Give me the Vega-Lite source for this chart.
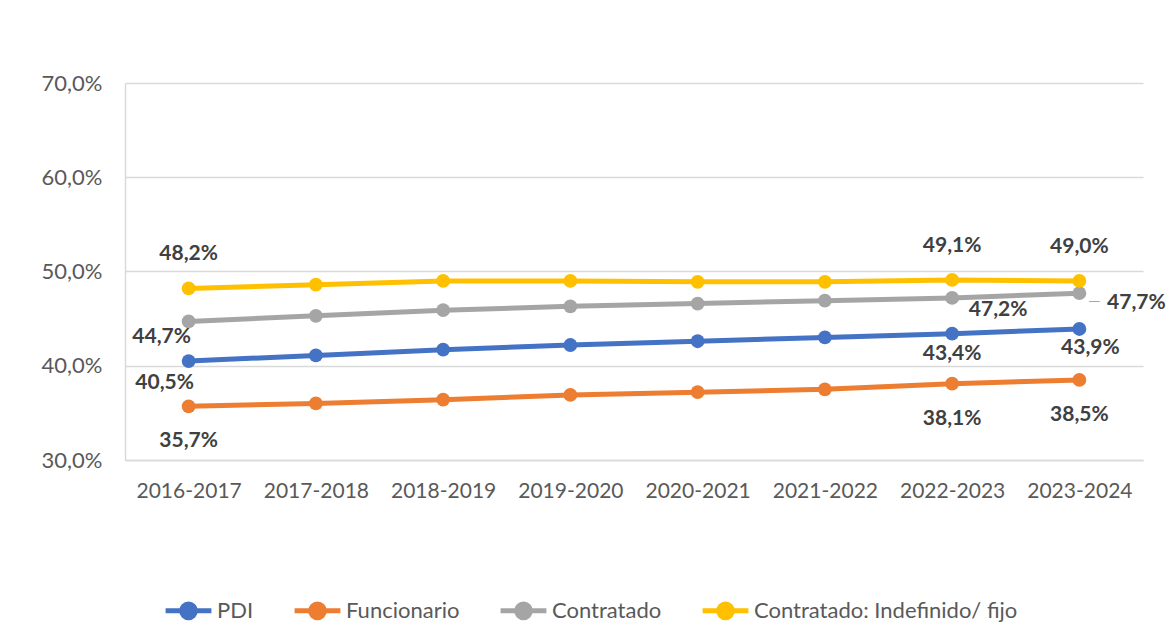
{
  "$schema": "https://vega.github.io/schema/vega-lite/v6.json",
  "autosize": {"type": "none"},
  "width": 1018,
  "height": 377,
  "padding": {"left": 125, "top": 83, "right": 25, "bottom": 182},
  "background": "#ffffff",
  "config": {
    "locale": {"number": {"decimal": ",", "thousands": ".", "grouping": [3], "currency": ["", " €"]}},
    "view": {"stroke": null},
    "font": "Lato"
  },
  "data": {
    "values": [
      {"curso": "2016-2017", "serie": "PDI", "valor": 0.405},
      {"curso": "2017-2018", "serie": "PDI", "valor": 0.411},
      {"curso": "2018-2019", "serie": "PDI", "valor": 0.417},
      {"curso": "2019-2020", "serie": "PDI", "valor": 0.422},
      {"curso": "2020-2021", "serie": "PDI", "valor": 0.426},
      {"curso": "2021-2022", "serie": "PDI", "valor": 0.430},
      {"curso": "2022-2023", "serie": "PDI", "valor": 0.434},
      {"curso": "2023-2024", "serie": "PDI", "valor": 0.439},
      {"curso": "2016-2017", "serie": "Funcionario", "valor": 0.357},
      {"curso": "2017-2018", "serie": "Funcionario", "valor": 0.360},
      {"curso": "2018-2019", "serie": "Funcionario", "valor": 0.364},
      {"curso": "2019-2020", "serie": "Funcionario", "valor": 0.369},
      {"curso": "2020-2021", "serie": "Funcionario", "valor": 0.372},
      {"curso": "2021-2022", "serie": "Funcionario", "valor": 0.375},
      {"curso": "2022-2023", "serie": "Funcionario", "valor": 0.381},
      {"curso": "2023-2024", "serie": "Funcionario", "valor": 0.385},
      {"curso": "2016-2017", "serie": "Contratado", "valor": 0.447},
      {"curso": "2017-2018", "serie": "Contratado", "valor": 0.453},
      {"curso": "2018-2019", "serie": "Contratado", "valor": 0.459},
      {"curso": "2019-2020", "serie": "Contratado", "valor": 0.463},
      {"curso": "2020-2021", "serie": "Contratado", "valor": 0.466},
      {"curso": "2021-2022", "serie": "Contratado", "valor": 0.469},
      {"curso": "2022-2023", "serie": "Contratado", "valor": 0.472},
      {"curso": "2023-2024", "serie": "Contratado", "valor": 0.477},
      {"curso": "2016-2017", "serie": "Contratado: Indefinido/ fijo", "valor": 0.482},
      {"curso": "2017-2018", "serie": "Contratado: Indefinido/ fijo", "valor": 0.486},
      {"curso": "2018-2019", "serie": "Contratado: Indefinido/ fijo", "valor": 0.490},
      {"curso": "2019-2020", "serie": "Contratado: Indefinido/ fijo", "valor": 0.490},
      {"curso": "2020-2021", "serie": "Contratado: Indefinido/ fijo", "valor": 0.489},
      {"curso": "2021-2022", "serie": "Contratado: Indefinido/ fijo", "valor": 0.489},
      {"curso": "2022-2023", "serie": "Contratado: Indefinido/ fijo", "valor": 0.491},
      {"curso": "2023-2024", "serie": "Contratado: Indefinido/ fijo", "valor": 0.490}
    ]
  },
  "encoding": {
    "x": {
      "field": "curso", "type": "nominal", "sort": null, "title": null,
      "axis": {"labelAngle": 0, "labelFontSize": 21, "labelColor": "#595959", "labelPadding": 20, "ticks": false, "domainColor": "#D9D9D9", "domainWidth": 1.5, "grid": false}
    },
    "y": {
      "field": "valor", "type": "quantitative", "title": null,
      "scale": {"domain": [0.3, 0.7], "nice": false, "zero": false},
      "axis": {"values": [0.3, 0.4, 0.5, 0.6, 0.7], "format": ".1%", "labelFontSize": 22, "labelColor": "#595959", "labelPadding": 23, "ticks": false, "domainColor": "#D9D9D9", "domainWidth": 1.5, "gridColor": "#D9D9D9", "gridWidth": 1.5}
    }
  },
  "layer": [
    {
      "mark": {"type": "line", "strokeWidth": 5, "point": {"filled": true, "size": 190, "opacity": 1}},
      "encoding": {
        "color": {
          "field": "serie", "type": "nominal", "title": null,
          "scale": {"domain": ["PDI", "Funcionario", "Contratado", "Contratado: Indefinido/ fijo"], "range": ["#4472C4", "#ED7D31", "#A5A5A5", "#FFC000"]},
          "legend": {
            "orient": "none", "legendX": 38, "legendY": 502, "direction": "horizontal",
            "symbolType": "M-1,0L1,0M0.3,0A0.3,0.3,0,1,1,-0.3,0A0.3,0.3,0,1,1,0.3,0",
            "symbolSize": 2100, "symbolStrokeWidth": 5, "symbolOpacity": 1,
            "labelFontSize": 22, "labelColor": "#595959", "labelOffset": 3, "columnPadding": 30, "labelLimit": 400
          }
        }
      }
    },
    {
      "transform": [{"filter": "datum.serie == 'Contratado: Indefinido/ fijo' && (datum.curso == '2016-2017' || datum.curso == '2022-2023' || datum.curso == '2023-2024')"}],
      "mark": {"type": "text", "fontWeight": "bold", "fontSize": 21, "color": "#404040", "baseline": "middle", "dy": -34},
      "encoding": {"text": {"field": "valor", "type": "quantitative", "format": ".1%"}}
    },
    {
      "transform": [{"filter": "datum.serie == 'Funcionario' && (datum.curso == '2016-2017' || datum.curso == '2022-2023' || datum.curso == '2023-2024')"}],
      "mark": {"type": "text", "fontWeight": "bold", "fontSize": 21, "color": "#404040", "baseline": "middle", "dy": 35},
      "encoding": {"text": {"field": "valor", "type": "quantitative", "format": ".1%"}}
    },
    {
      "transform": [{"filter": "datum.serie == 'PDI' && datum.curso == '2022-2023'"}],
      "mark": {"type": "text", "fontWeight": "bold", "fontSize": 21, "color": "#404040", "baseline": "middle", "dy": 20},
      "encoding": {"text": {"field": "valor", "type": "quantitative", "format": ".1%"}}
    },
    {
      "transform": [{"filter": "datum.serie == 'PDI' && datum.curso == '2023-2024'"}],
      "mark": {"type": "text", "fontWeight": "bold", "fontSize": 21, "color": "#404040", "baseline": "middle", "dx": 11, "dy": 19},
      "encoding": {"text": {"field": "valor", "type": "quantitative", "format": ".1%"}}
    },
    {
      "transform": [{"filter": "datum.serie == 'PDI' && datum.curso == '2016-2017'"}],
      "mark": {"type": "text", "fontWeight": "bold", "fontSize": 21, "color": "#404040", "baseline": "middle", "dx": -24, "dy": 22},
      "encoding": {"text": {"field": "valor", "type": "quantitative", "format": ".1%"}}
    },
    {
      "transform": [{"filter": "datum.serie == 'Contratado' && datum.curso == '2016-2017'"}],
      "mark": {"type": "text", "fontWeight": "bold", "fontSize": 21, "color": "#404040", "baseline": "middle", "dx": -27, "dy": 16},
      "encoding": {"text": {"field": "valor", "type": "quantitative", "format": ".1%"}}
    },
    {
      "transform": [{"filter": "datum.serie == 'Contratado' && datum.curso == '2022-2023'"}],
      "mark": {"type": "text", "fontWeight": "bold", "fontSize": 21, "color": "#404040", "baseline": "middle", "dx": 46, "dy": 12},
      "encoding": {"text": {"field": "valor", "type": "quantitative", "format": ".1%"}}
    },
    {
      "transform": [{"filter": "datum.serie == 'Contratado' && datum.curso == '2023-2024'"}],
      "mark": {"type": "text", "fontWeight": "bold", "fontSize": 21, "color": "#404040", "baseline": "middle", "dx": 57, "dy": 10},
      "encoding": {"text": {"field": "valor", "type": "quantitative", "format": ".1%"}}
    },
    {
      "transform": [{"filter": "datum.serie == 'Contratado' && datum.curso == '2023-2024'"}],
      "mark": {"type": "text", "fontSize": 16, "color": "#A5A5A5", "baseline": "middle", "dx": 15, "dy": 8},
      "encoding": {"text": {"value": "—"}}
    }
  ]
}
